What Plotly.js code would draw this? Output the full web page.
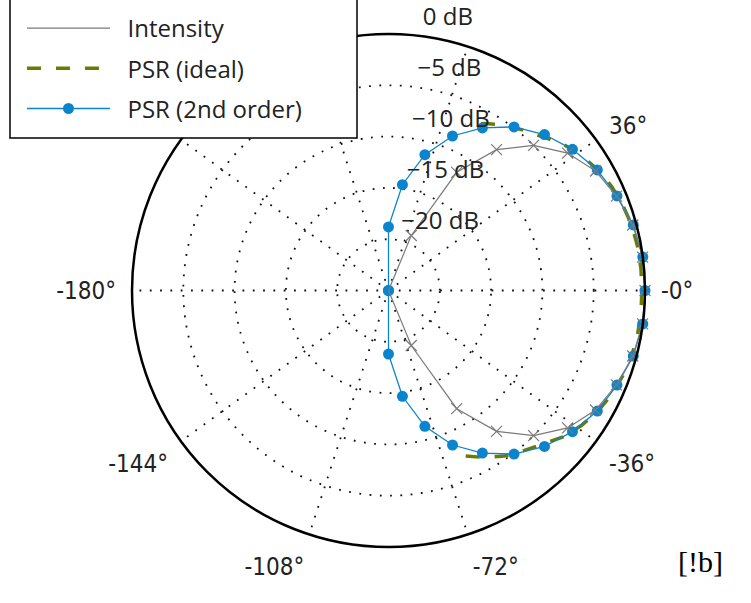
<!DOCTYPE html>
<html><head><meta charset="utf-8">
<script src="https://cdn.plot.ly/plotly-3.0.1.min.js"></script>
<style>html,body{margin:0;padding:0;background:#fff}#chart{width:751px;height:603px}</style>
</head><body><div id="chart"></div>
<script>
// ---- data (dB vs angle in degrees) ----
const psrTheta = [-97.5,-90,-82.5,-75,-67.5,-60,-52.5,-45,-37.5,-30,-22.5,-15,-7.5,0,7.5,15,22.5,30,37.5,45,52.5,60,67.5,75,82.5,90,97.5];
const psrValues = [-25,-18.8,-14.6,-11.3,-8.7,-6.7,-4.9,-3.5,-2.4,-1.5,-0.9,-0.3,0,0,0,-0.3,-0.9,-1.5,-2.4,-3.5,-4.9,-6.7,-8.7,-11.3,-14.6,-18.8,-25];

const intensityTheta = [-75,-67.5,-60,-52.5,-45,-37.5,-30,-22.5,-15,-7.5,0,7.5,15,22.5,30,37.5,45,52.5,60,67.5,75];
const intensityValues = [-25,-19.2,-11.7,-7.7,-5.0,-3.0,-1.7,-0.95,-0.35,-0.02,0,-0.02,-0.35,-0.95,-1.7,-3.0,-5.0,-7.7,-11.7,-19.2,-25];

const idealTheta = [-65,-60,-55,-50,-45,-40,-35,-30,-25,-20,-15,-10,-5,0,5,10,15,20,25,30,35,40,45,50,55,60,65];
const idealValues = [-7.2,-6.2,-5.3,-4.6,-3.8,-2.8,-2.05,-1.45,-1.0,-0.7,-0.45,-0.35,-0.3,-0.3,-0.3,-0.35,-0.45,-0.7,-1.0,-1.45,-2.05,-2.8,-3.8,-4.6,-5.3,-6.2,-7.2];

const angleTickVals = [0,36,72,108,144,180,216,252,288,324];
const angleTickText = ['-0°','36°','','','','-180°','-144°','-108°','-72°','-36°'];
const radialTickVals = [-20,-15,-10,-5,0];
const radialTickText = ['\u221220 dB','\u221215 dB','\u221210 dB','\u22125 dB','0 dB'];
const radialRange = [-25,0];

// ---- figure ----
const W = 751, H = 603;
const labelFont = 'Open Sans, Noto Sans, sans-serif';
const dotDash = '1.8px,8.5px';
const floor = radialRange[0];
const pad = '\u00a0\u00a0';

const keep = intensityValues.map(v => v > floor);
const intensityMarkTheta = intensityTheta.filter((_, i) => keep[i]);
const intensityMarkValues = intensityValues.filter((_, i) => keep[i]);

const traces = [
  {type:'scatterpolar', name:pad + 'PSR (ideal)', theta:idealTheta, r:idealValues, mode:'lines',
   line:{color:'#6b7a00', width:3.5, dash:'14px,15px'}, legendgroup:'b', legendrank:2},
  {type:'scatterpolar', name:pad + 'PSR (2nd order)', theta:psrTheta, r:psrValues, mode:'lines+markers',
   line:{color:'#0a84cc', width:1.3}, marker:{color:'#0a84cc', size:11}, legendgroup:'c', legendrank:3},
  {type:'scatterpolar', name:pad + 'Intensity', theta:intensityTheta, r:intensityValues, mode:'lines',
   line:{color:'#7a7a7a', width:1.2}, legendgroup:'a', legendrank:1},
  {type:'scatterpolar', name:'Intensity', theta:intensityMarkTheta, r:intensityMarkValues, mode:'markers',
   marker:{symbol:'x-thin', size:11, line:{color:'#7a7a7a', width:1.2}}, showlegend:false, legendgroup:'a'}
];

const layout = {
  width:W, height:H, paper_bgcolor:'white', showlegend:true,
  margin:{l:0,r:0,t:0,b:0, autoexpand:false},
  polar:{
    domain:{x:[132/W, 645/W], y:[(H-547)/H, (H-34)/H]},
    bgcolor:'white',
    angularaxis:{direction:'counterclockwise', rotation:0, thetaunit:'degrees',
      tickmode:'array', tickvals:angleTickVals, ticktext:angleTickText,
      showline:true, linecolor:'black', linewidth:2.5,
      showgrid:true, gridcolor:'#111', gridwidth:1.8, griddash:dotDash,
      ticks:'outside', ticklen:10, tickcolor:'rgba(0,0,0,0)',
      tickfont:{family:'DejaVu Sans Condensed, sans-serif', size:24, color:'#222'}},
    radialaxis:{range:radialRange, angle:84, tickangle:84, side:'clockwise',
      tickmode:'array', tickvals:radialTickVals,
      // blank trailing lines lift each label above its circle, as in the original
      ticktext:radialTickText.map(t => '<span style="font-size:24px">' + t + '</span><br> <br> '),
      showline:false, ticks:'', showgrid:true, gridcolor:'#111', gridwidth:1.8, griddash:dotDash,
      tickfont:{family:labelFont, size:14, color:'#222'}}
  },
  legend:{x:22/W, xanchor:'left', y:1 - 6/H, yanchor:'top', bgcolor:'rgba(0,0,0,0)', borderwidth:0,
    font:{family:labelFont, size:24, color:'#222'}, itemwidth:83, tracegroupgap:6, traceorder:'grouped'},
  shapes:[{type:'rect', xref:'paper', yref:'paper', x0:10/W, x1:357/W, y0:(H-138)/H, y1:1.05,
    fillcolor:'white', line:{color:'black', width:1.5}, layer:'above'}],
  annotations:[{xref:'paper', yref:'paper', x:725/W, y:(H-580)/H, text:'[!b]', showarrow:false,
    font:{family:'Liberation Serif, serif', size:30, color:'black'}}]
};

Plotly.newPlot('chart', traces, layout, {displayModeBar:false, staticPlot:true});
</script>
</body></html>
